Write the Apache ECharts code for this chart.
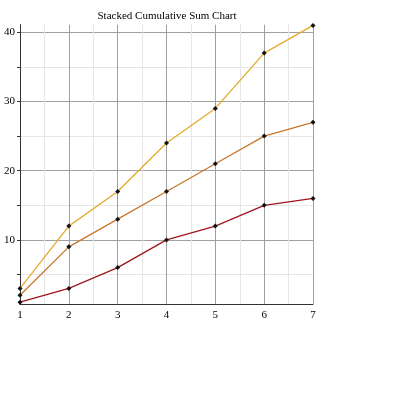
<!DOCTYPE html>
<html>
<head>
<meta charset="utf-8">
<script src="https://cdn.jsdelivr.net/npm/echarts@6/dist/echarts.min.js"></script>
<style>html,body{margin:0;padding:0;background:#fff}#c{width:395px;height:395px}</style>
</head>
<body>
<div id="c"></div>
<script>
var xValues = [1, 2, 3, 4, 5, 6, 7];
// cumulative (stacked) totals as plotted
var seriesBottom = [1, 3, 6, 10, 12, 15, 16];
var seriesMiddle = [2, 9, 13, 17, 21, 25, 27];
var seriesTop = [3, 12, 17, 24, 29, 37, 41];
var yMajorTicks = [10, 20, 30, 40];
var yAllTicks = [5, 10, 15, 20, 25, 30, 35, 40];
var title = 'Stacked Cumulative Sum Chart';

function pairs(vals) { return vals.map(function (v, i) { return [xValues[i], v]; }); }

var font = '"Liberation Serif", "DejaVu Serif", serif';
var chart = echarts.init(document.getElementById('c'), null, { renderer: 'canvas' });
function mk(name, vals, color) {
  return {
    name: name, type: 'line', data: pairs(vals),
    symbol: 'diamond', symbolSize: 5, showSymbol: true,
    itemStyle: { color: '#111' },
    lineStyle: { color: color, width: 1.3 },
    animation: false
  };
}
chart.setOption({
  animation: false,
  title: { text: title, left: 162, textAlign: 'center', top: 6,
    textStyle: { fontFamily: font, fontSize: 11, fontWeight: 'normal', color: '#000' } },
  grid: { left: 20, right: 82, top: 24.7, bottom: 90.7, containLabel: false },
  xAxis: {
    type: 'value', min: 1, max: 7, interval: 1,
    axisLine: { show: true, lineStyle: { color: '#333', width: 1 } },
    axisTick: { show: false },
    axisLabel: { fontFamily: font, fontSize: 11, color: '#000', margin: 5 },
    splitLine: { show: true, lineStyle: { color: '#a0a0a0', width: 1 } },
    minorTick: { show: false, splitNumber: 2 },
    minorSplitLine: { show: true, lineStyle: { color: '#e6e6e6', width: 1 } }
  },
  yAxis: {
    type: 'value', min: 0.7, max: 41.1,
    axisLine: { show: true, onZero: false, lineStyle: { color: '#333', width: 1 } },
    axisTick: { show: true, length: 3, customValues: yAllTicks, lineStyle: { color: '#333' } },
    axisLabel: { fontFamily: font, fontSize: 11, color: '#000', margin: 5, customValues: yMajorTicks },
    splitLine: { show: true, lineStyle: { color: ['#e6e6e6', '#a0a0a0'], width: 1 } }
  },
  series: [
    mk('Bottom', seriesBottom, '#a0161e'),
    mk('Middle', seriesMiddle, '#c8772a'),
    mk('Top', seriesTop, '#e6aa2a')
  ]
});
</script>
</body>
</html>
